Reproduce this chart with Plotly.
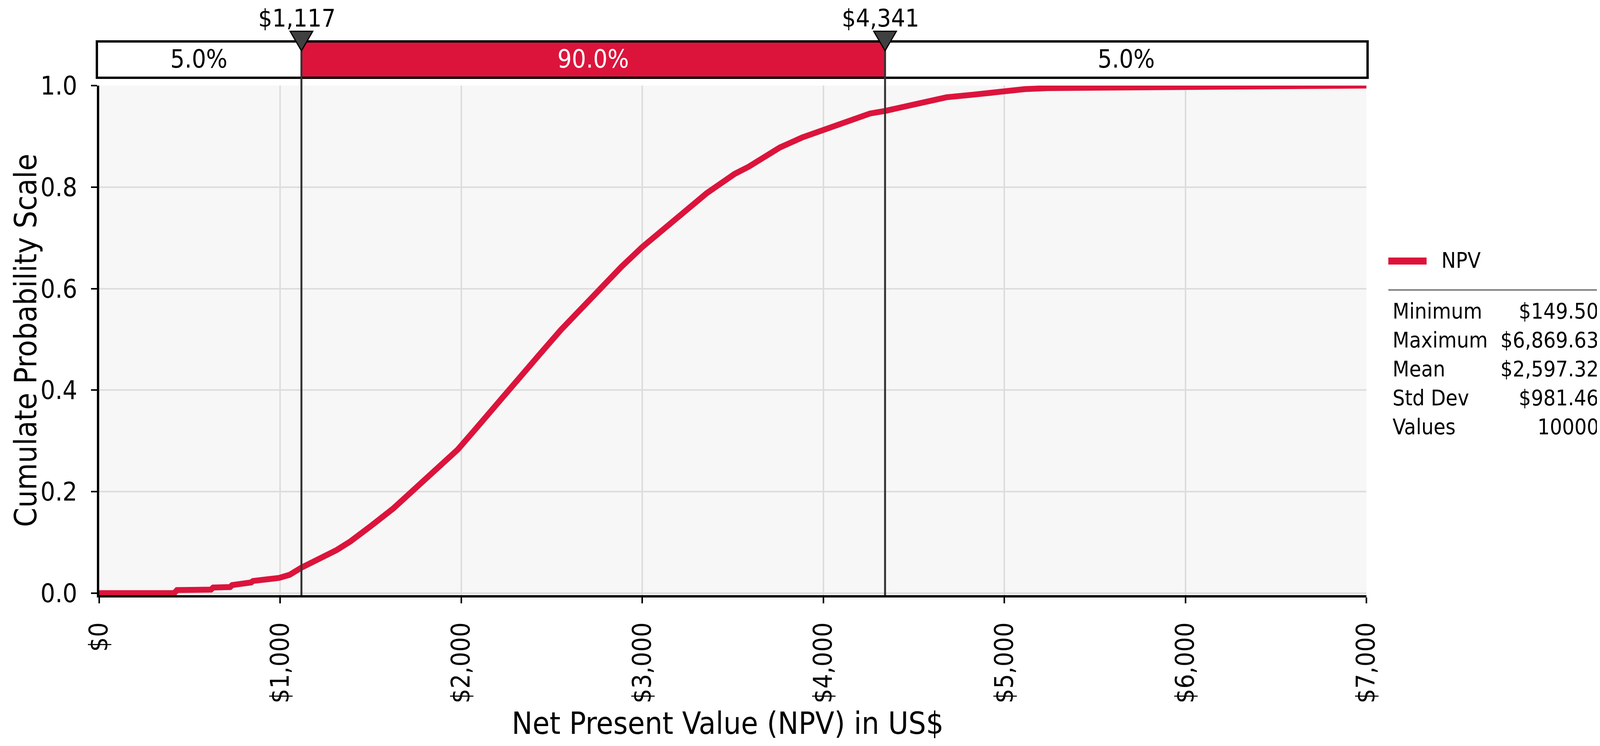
import plotly.graph_objects as go

# ---------------- data ----------------
npv_values = [0, 150, 414, 430, 617, 630, 723, 735, 781, 790, 839, 850, 934, 945,
              993, 1051, 1116, 1167, 1234, 1312, 1388, 1465, 1500, 1625, 1817,
              1981, 2078, 2184, 2261, 2320, 2434, 2551, 2685, 2785, 2885, 3000,
              3114, 3192, 3259, 3356, 3433, 3510, 3587, 3664, 3760, 3885, 4001,
              4146, 4220, 4258, 4341, 4421, 4489, 4585, 4681, 4825, 4970, 5114,
              5240, 5816, 5830, 6870, 7000]
cum_prob = [0.000, 0.000, 0.000, 0.006, 0.007, 0.011, 0.012, 0.016, 0.017, 0.020,
            0.021, 0.024, 0.025, 0.028, 0.030, 0.036, 0.050, 0.059, 0.071, 0.085,
            0.102, 0.121, 0.132, 0.167, 0.228, 0.283, 0.323, 0.368, 0.397, 0.423,
            0.471, 0.519, 0.570, 0.605, 0.643, 0.682, 0.717, 0.741, 0.761, 0.788,
            0.807, 0.826, 0.840, 0.856, 0.878, 0.898, 0.912, 0.930, 0.938, 0.945,
            0.950, 0.957, 0.963, 0.971, 0.977, 0.982, 0.988, 0.993, 0.995, 0.996,
            0.998, 0.999, 1.000]

series_name = "NPV"
x_tick_vals = [0, 1000, 2000, 3000, 4000, 5000, 6000, 7000]
x_tick_text = ["$0", "$1,000", "$2,000", "$3,000", "$4,000", "$5,000", "$6,000", "$7,000"]
y_tick_vals = [0.0, 0.2, 0.4, 0.6, 0.8, 1.0]
y_tick_text = ["0.0", "0.2", "0.4", "0.6", "0.8", "1.0"]

p_low, p_high = 1117, 4341
p_low_label, p_high_label = "$1,117", "$4,341"
band_labels = ["5.0%", "90.0%", "5.0%"]

stats_labels = ["Minimum", "Maximum", "Mean", "Std Dev", "Values"]
stats_values = ["$149.50", "$6,869.63", "$2,597.32", "$981.46", "10000"]

x_title = "Net Present Value (NPV) in US$"
y_title = "Cumulate Probability Scale"

# ---------------- style ----------------
FONT = "DejaVu Sans Condensed, Liberation Sans, Arial, sans-serif"
RED = "#DC143C"
X_MIN, X_MAX = 0, 7000

fig = go.Figure()
fig.add_trace(go.Scatter(
    x=npv_values, y=cum_prob, mode="lines", name=series_name,
    line=dict(color=RED, width=15), showlegend=False, hoverinfo="x+y"))

shapes = []
annotations = []

# top probability band
band_y0, band_y1 = 1.0153, 1.0867
seg_edges = [X_MIN - 15, p_low, p_high, X_MAX + 7]
seg_fill = ["white", RED, "white"]
for i in range(3):
    shapes.append(dict(type="rect", xref="x", yref="paper",
                       x0=seg_edges[i], x1=seg_edges[i + 1], y0=band_y0, y1=band_y1,
                       fillcolor=seg_fill[i], line=dict(width=0), layer="above"))
    annotations.append(dict(xref="x", yref="paper",
                            x=(seg_edges[i] + seg_edges[i + 1]) / 2, y=1.0521,
                            text=band_labels[i], showarrow=False,
                            xanchor="center", yanchor="middle",
                            font=dict(family=FONT, size=64,
                                      color="white" if seg_fill[i] == RED else "black")))
shapes.append(dict(type="rect", xref="paper", yref="paper",
                   x0=-0.00185, x1=1.00092, y0=band_y0, y1=band_y1,
                   fillcolor="rgba(0,0,0,0)", line=dict(color="black", width=6),
                   layer="above"))

# percentile markers
half_w = 62.6
for xv, lab in [(p_low, p_low_label), (p_high, p_high_label)]:
    shapes.append(dict(type="line", xref="x", yref="paper", x0=xv, x1=xv,
                       y0=0, y1=1.0683, line=dict(color="#333333", width=5),
                       layer="above"))
    shapes.append(dict(type="path", xref="x", yref="paper",
                       path=f"M {xv - half_w},1.1066 L {xv + half_w},1.1066 L {xv},1.0683 Z",
                       fillcolor="#404040", line=dict(color="black", width=3),
                       layer="above"))
    annotations.append(dict(xref="x", yref="paper", x=xv, y=1.1615, text=lab,
                            showarrow=False, xanchor="center", yanchor="top",
                            xshift=-12, font=dict(family=FONT, size=63, color="black")))

# legend / statistics panel
shapes.append(dict(type="line", xref="paper", yref="paper", x0=1.0173, x1=1.1887,
                   y0=0.5989, y1=0.5989, line=dict(color="#808080", width=4)))
shapes.append(dict(type="line", xref="paper", yref="paper", x0=1.0173, x1=1.0475,
                   y0=0.6557, y1=0.6557, line=dict(color=RED, width=18)))
annotations.append(dict(xref="paper", yref="paper", x=1.0586, y=0.6572,
                        text=series_name, showarrow=False, xanchor="left",
                        yanchor="middle", font=dict(family=FONT, size=55, color="black")))
row_y = [0.5575, 0.5008, 0.4440, 0.3873, 0.3305]
for lab, val, yy in zip(stats_labels, stats_values, row_y):
    annotations.append(dict(xref="paper", yref="paper", x=1.0200, y=yy, text=lab,
                            showarrow=False, xanchor="left", yanchor="middle",
                            font=dict(family=FONT, size=55, color="black")))
    annotations.append(dict(xref="paper", yref="paper", x=1.1840, y=yy, text=val,
                            showarrow=False, xanchor="right", yanchor="middle",
                            font=dict(family=FONT, size=55, color="black")))

# axis titles
annotations.append(dict(xref="paper", yref="paper", x=0.4960, y=-0.2885, text=x_title,
                        showarrow=False, xanchor="center", yanchor="bottom",
                        font=dict(family=FONT, size=79, color="black")))
annotations.append(dict(xref="paper", yref="paper", x=-0.0580, y=0.5, text=y_title,
                        textangle=-90, showarrow=False, xanchor="center",
                        yanchor="middle", font=dict(family=FONT, size=79, color="black")))

# the page body keeps its default 8px margin, so the figure is 16px smaller
fig.update_layout(
    width=4100, height=1893, autosize=False,
    margin=dict(l=246, r=610, t=211, b=378, pad=0),
    paper_bgcolor="white", plot_bgcolor="#F7F7F7",
    font=dict(family=FONT, size=66, color="black"),
    shapes=shapes, annotations=annotations, showlegend=False,
)
fig.update_xaxes(range=[X_MIN, X_MAX], tickvals=x_tick_vals, ticktext=x_tick_text,
                 tickangle=-90, showgrid=True, gridcolor="#DDDDDD", gridwidth=4,
                 showline=True, linecolor="black", linewidth=6, zeroline=False,
                 ticks="outside", ticklen=15, tickwidth=4, tickcolor="black",
                 ticklabelstandoff=22, tickfont=dict(family=FONT, size=66, color="black"))
fig.update_yaxes(range=[-0.004, 1.0], tickvals=y_tick_vals, ticktext=y_tick_text,
                 showgrid=True, gridcolor="#DDDDDD", gridwidth=4,
                 showline=True, linecolor="black", linewidth=6, zeroline=False,
                 ticks="outside", ticklen=15, tickwidth=4, tickcolor="black",
                 ticklabelstandoff=22, tickfont=dict(family=FONT, size=66, color="black"))

fig.write_html("out.html")
